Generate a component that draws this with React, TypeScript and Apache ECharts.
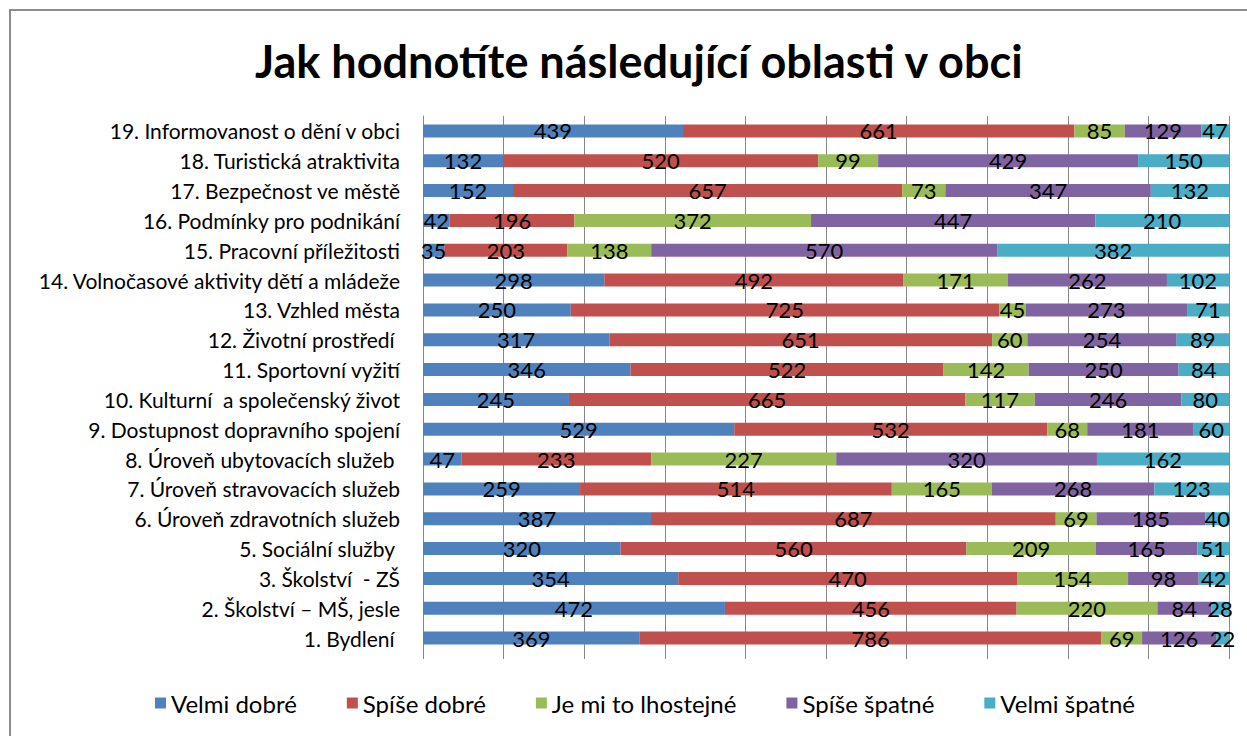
import React, { useEffect, useRef } from "react";
import * as echarts from "echarts";

const categories = [
  "19. Informovanost o dění v obci",
  "18. Turistická atraktivita",
  "17. Bezpečnost ve městě",
  "16. Podmínky pro podnikání",
  "15. Pracovní příležitosti",
  "14. Volnočasové aktivity dětí a mládeže",
  "13. Vzhled města",
  "12. Životní prostředí ",
  "11. Sportovní vyžití",
  "10. Kulturní  a společenský život",
  "9. Dostupnost dopravního spojení",
  "8. Úroveň ubytovacích služeb ",
  "7. Úroveň stravovacích služeb",
  "6. Úroveň zdravotních služeb",
  "5. Sociální služby ",
  "3. Školství  - ZŠ",
  "2. Školství – MŠ, jesle",
  "1. Bydlení ",
];

const seriesNames = ["Velmi dobré", "Spíše dobré", "Je mi to lhostejné", "Spíše špatné", "Velmi špatné"];

const velmiDobre = [439, 132, 152, 42, 35, 298, 250, 317, 346, 245, 529, 47, 259, 387, 320, 354, 472, 369];
const spiseDobre = [661, 520, 657, 196, 203, 492, 725, 651, 522, 665, 532, 233, 514, 687, 560, 470, 456, 786];
const lhostejne = [85, 99, 73, 372, 138, 171, 45, 60, 142, 117, 68, 227, 165, 69, 209, 154, 220, 69];
const spiseSpatne = [129, 429, 347, 447, 570, 262, 273, 254, 250, 246, 181, 320, 268, 185, 165, 98, 84, 126];
const velmiSpatne = [47, 150, 132, 210, 382, 102, 71, 89, 84, 80, 60, 162, 123, 40, 51, 42, 28, 22];

const colors = ["#4F81BD", "#C0504D", "#9BBB59", "#8064A2", "#4BACC6"];

const FONT = "Lato, 'Noto Sans', sans-serif";

export default function App() {
  const ref = useRef<HTMLDivElement>(null);

  useEffect(() => {
    if (!ref.current) return;
    const chart = echarts.init(ref.current, undefined, { renderer: "svg" });
    const raw = [velmiDobre, spiseDobre, lhostejne, spiseSpatne, velmiSpatne];
    const totals = categories.map((_, i) => raw.reduce((s, arr) => s + arr[i], 0));

    const series = raw.map((arr, k) => ({
      name: seriesNames[k],
      type: "bar",
      stack: "total",
      barWidth: 13,
      itemStyle: { color: colors[k] },
      label: {
        show: true,
        position: "inside",
        color: "#000",
        fontSize: 22,
        fontFamily: FONT,
        formatter: (p: any) => String(arr[p.dataIndex]),
      },
      data: arr.map((v, i) => (v / totals[i]) * 100),
    }));

    chart.setOption({
      animation: false,
      backgroundColor: "#fff",
      title: {
        text: "Jak hodnotíte následující oblasti v obci",
        left: 250,
        top: 33,
        textStyle: { fontFamily: FONT, fontSize: 45, fontWeight: "bold", color: "#000" },
      },
      legend: {
        bottom: 16,
        left: 150,
        itemWidth: 11,
        itemHeight: 11,
        itemGap: 50,
        icon: "rect",
        textStyle: { fontFamily: FONT, fontSize: 24, color: "#000" },
        data: seriesNames,
      },
      grid: { left: 423, right: 18, top: 116, bottom: 83 },
      xAxis: {
        type: "value",
        min: 0,
        max: 100,
        interval: 10,
        axisLabel: { show: false },
        axisLine: { show: false },
        axisTick: { show: true, length: 6, lineStyle: { color: "#888" } },
        splitLine: { show: true, lineStyle: { color: "#888", width: 1 } },
      },
      yAxis: {
        type: "category",
        inverse: true,
        data: categories,
        axisLine: { show: true, lineStyle: { color: "#888" } },
        axisTick: { show: false },
        axisLabel: { color: "#000", fontSize: 21, fontFamily: FONT, margin: 23 },
      },
      graphic: [
        {
          type: "rect",
          shape: { x: 10, y: 10, width: 1300, height: 800 },
          style: { fill: "none", stroke: "#8c8c8c", lineWidth: 2 },
          silent: true,
        },
      ],
      series,
    });

    return () => chart.dispose();
  }, []);

  return (
    <div
      ref={ref}
      style={{ position: "absolute", left: 0, top: 0, width: 1247, height: 736 }}
    />
  );
}
